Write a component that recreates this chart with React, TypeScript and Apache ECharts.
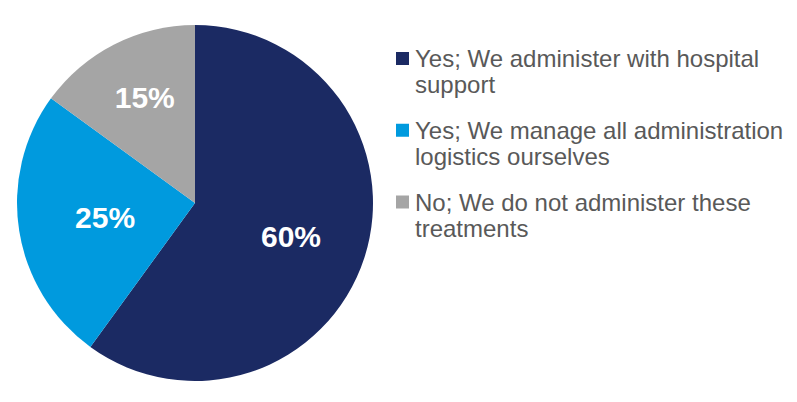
import React, { useEffect, useRef } from "react";
import * as echarts from "echarts";

const categories = [
  "Yes; We administer with hospital\nsupport",
  "Yes; We manage all administration\nlogistics ourselves",
  "No; We do not administer these\ntreatments",
];
const values = [60, 25, 15];
const colors = ["#1B2A63", "#009ADE", "#A5A5A5"];
// label nudges from the default mid-radius position
const labelShifts = [
  [8.5, 5.5],
  [1, 0],
  [-8.5, -23.5],
];

export default function App() {
  const ref = useRef<HTMLDivElement>(null);
  useEffect(() => {
    if (!ref.current) return;
    const chart = echarts.init(ref.current, undefined, { renderer: "svg" });
    const font = "Liberation Sans, Arial, sans-serif";
    const legendGraphics: any[] = [];
    categories.forEach((c, i) => {
      const cy = 58.5 + 71.75 * i;
      legendGraphics.push({
        type: "rect",
        shape: { x: 396, y: cy - 6.5, width: 13, height: 13 },
        style: { fill: colors[i] },
        silent: true,
      });
      legendGraphics.push({
        type: "text",
        x: 415,
        y: cy - 13,
        style: {
          text: c,
          fill: "#595959",
          fontFamily: font,
          fontSize: 24,
          lineHeight: 26,
          verticalAlign: "top",
          align: "left",
        },
        silent: true,
      });
    });
    chart.setOption({
      animation: false,
      backgroundColor: "#ffffff",
      graphic: legendGraphics,
      series: [
        {
          type: "pie",
          center: [195, 203],
          radius: 178,
          startAngle: 90,
          clockwise: true,
          avoidLabelOverlap: false,
          label: {
            show: true,
            position: "inside",
            formatter: "{c}%",
            color: "#ffffff",
            fontFamily: font,
            fontWeight: "bold",
            fontSize: 30,
          },
          labelLayout: (p: any) => ({
            dx: labelShifts[p.dataIndex][0],
            dy: labelShifts[p.dataIndex][1],
          }),
          labelLine: { show: false },
          emphasis: { disabled: true },
          data: values.map((v, i) => ({
            value: v,
            name: categories[i],
            itemStyle: { color: colors[i] },
          })),
        },
      ],
    });
    return () => chart.dispose();
  }, []);
  return (
    <div
      ref={ref}
      style={{ position: "fixed", left: 0, top: 0, width: 797, height: 402 }}
    />
  );
}
